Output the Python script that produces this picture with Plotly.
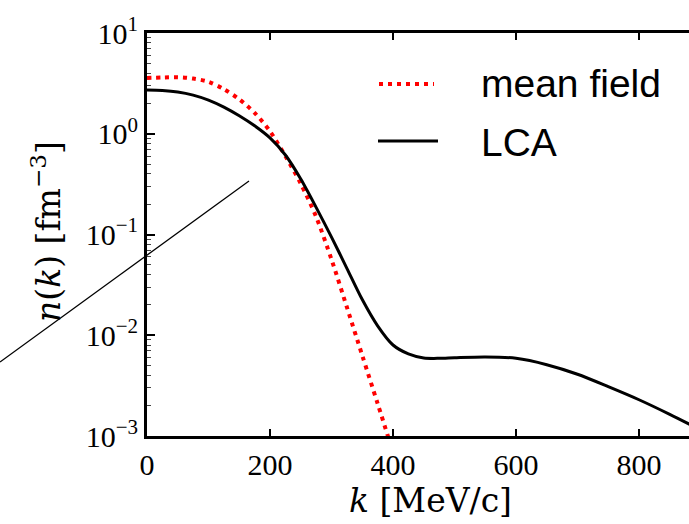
import plotly.graph_objects as go

# ---- data ----
k_mf = [0, 25, 50, 75, 100, 125, 150, 175, 200, 225, 250, 275, 300, 325, 350, 375, 400]
n_mf = [3.58, 3.62, 3.64, 3.53, 3.28, 2.77, 2.20, 1.61, 1.06, 0.60, 0.32, 0.150,
        0.0565, 0.019, 0.0063, 0.0021, 0.00069]

k_lca = [0, 25, 50, 75, 100, 125, 150, 175, 200, 225, 250, 275, 300, 325, 350, 375, 400,
         425, 450, 475, 500, 550, 600, 650, 700, 750, 800, 850, 900]
n_lca = [2.72, 2.69, 2.60, 2.42, 2.16, 1.84, 1.51, 1.20, 0.91, 0.615, 0.355, 0.186,
         0.0943, 0.0462, 0.0226, 0.0124, 0.0080, 0.00653, 0.00595, 0.00590, 0.00598,
         0.0061, 0.0059, 0.0051, 0.0041, 0.00309, 0.00229, 0.00164, 0.00115]

series_names = ["mean field", "LCA"]
x_ticks = [0, 200, 400, 600, 800]
y_tickvals = [1e-3, 1e-2, 1e-1, 1e0, 1e1]
y_ticktext = ["10<sup>\u22123</sup>", "10<sup>\u22122</sup>", "10<sup>\u22121</sup>",
              "10<sup>0</sup>", "10<sup>1</sup>"]

fig = go.Figure()
fig.add_trace(go.Scatter(x=k_mf, y=n_mf, mode="lines", name=series_names[0],
                         line=dict(color="#ff0000", width=4, dash="4px,5px", shape="spline",
                                   smoothing=0.8),
                         showlegend=False))
fig.add_trace(go.Scatter(x=k_lca, y=n_lca, mode="lines", name=series_names[1],
                         line=dict(color="black", width=3, shape="spline", smoothing=0.8),
                         showlegend=False))

tick_font = dict(family="Liberation Serif", size=30, color="black")
title_font = dict(family="DejaVu Serif", size=33, color="black")

minor_vals = [m * 10 ** e for e in range(-3, 1) for m in range(2, 10)]

fig.update_xaxes(range=[0, 881.3], tickvals=x_ticks, ticks="inside", ticklen=7, tickwidth=2,
                 tickcolor="black", showline=True, linewidth=3, linecolor="black",
                 mirror="ticks", showgrid=False, zeroline=False, tickfont=tick_font)
fig.update_yaxes(type="log", range=[-3, 1], tickvals=y_tickvals, ticktext=y_ticktext,
                 ticks="inside", ticklen=8, tickwidth=2, tickcolor="black",
                 showline=True, linewidth=3, linecolor="black", mirror=False,
                 showgrid=False, zeroline=False, tickfont=tick_font,
                 minor=dict(tickvals=minor_vals, ticks="inside", ticklen=4, tickwidth=1,
                            tickcolor="#444", showgrid=False))

W, H = 689, 524
L, T, B = 147, 33, 88
pw, ph = W - L, H - T - B


def px(xp):
    return (xp - L) / pw


def py(yp):
    return (H - B - yp) / ph


# legend (drawn by hand to match sample length)
fig.add_shape(type="line", xref="paper", yref="paper", x0=px(379), x1=px(434),
              y0=py(84), y1=py(84), line=dict(color="#ff0000", width=4, dash="4px,5px"))
fig.add_shape(type="line", xref="paper", yref="paper", x0=px(378), x1=px(438),
              y0=py(141), y1=py(141), line=dict(color="black", width=3))
legend_font = dict(family="Liberation Sans", size=39, color="black")
fig.add_annotation(xref="paper", yref="paper", x=px(479), y=py(84), xanchor="left",
                   yanchor="middle", text=series_names[0], showarrow=False, font=legend_font)
fig.add_annotation(xref="paper", yref="paper", x=px(479), y=py(142), xanchor="left",
                   yanchor="middle", text=series_names[1], showarrow=False, font=legend_font)

# axis titles
fig.add_annotation(xref="paper", yref="paper", x=px(430), y=py(500), xanchor="center",
                   yanchor="middle", text="<i>k</i> [MeV/c]", showarrow=False, font=title_font)
fig.add_annotation(xref="paper", yref="paper", x=px(46), y=py(232), xanchor="center",
                   yanchor="middle", text="<i>n</i>(<i>k</i>) [fm<sup>\u22123</sup>]",
                   textangle=-90, showarrow=False, font=title_font)

# stray diagonal line present in the reference image
fig.add_shape(type="line", xref="paper", yref="paper", x0=px(0), y0=py(362),
              x1=px(249), y1=py(181), line=dict(color="black", width=1.3), layer="above")

fig.update_layout(width=W, height=H, margin=dict(l=L, r=0, t=T, b=B),
                  paper_bgcolor="white", plot_bgcolor="white")

fig.write_html("out.html")
